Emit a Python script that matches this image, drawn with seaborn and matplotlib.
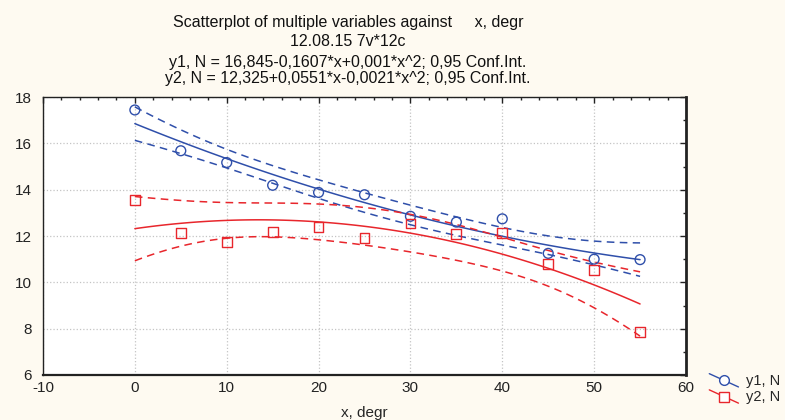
import numpy as np
import pandas as pd
import matplotlib
matplotlib.use("Agg")
import matplotlib.pyplot as plt
import seaborn as sns
from matplotlib.lines import Line2D
from matplotlib.legend_handler import HandlerBase
from matplotlib.ticker import MultipleLocator

# data
x_degr = [0, 5, 10, 15, 20, 25, 30, 35, 40, 45, 50, 55]
y1_n = [17.44, 15.68, 15.17, 14.19, 13.88, 13.78, 12.85, 12.6, 12.74, 11.25, 11.0, 10.98]
y2_n = [13.57, 12.14, 11.74, 12.19, 12.39, 11.92, 12.54, 12.08, 12.12, 10.79, 10.54, 7.86]
series_names = ["y1, N", "y2, N"]
title_lines = [
    "Scatterplot of multiple variables against     x, degr",
    "12.08.15 7v*12c",
    "y1, N = 16,845-0,1607*x+0,001*x^2; 0,95 Conf.Int.",
    "y2, N = 12,325+0,0551*x-0,0021*x^2; 0,95 Conf.Int.",
]

BLUE = "#2F4FAA"
RED = "#E8262C"
BG = "#FEFAF1"
T_975_DF9 = 2.262  # t quantile, n=12, 3 params


def quad_fit_ci(x, y, xs):
    """Quadratic least squares fit with 95% conf. band of the mean."""
    x = np.asarray(x, float)
    y = np.asarray(y, float)
    X = np.column_stack([np.ones_like(x), x, x ** 2])
    beta, *_ = np.linalg.lstsq(X, y, rcond=None)
    resid = y - X @ beta
    s2 = resid @ resid / (len(x) - 3)
    cov = s2 * np.linalg.inv(X.T @ X)
    Xs = np.column_stack([np.ones_like(xs), xs, xs ** 2])
    fit = Xs @ beta
    se = np.sqrt(np.einsum("ij,jk,ik->i", Xs, cov, Xs))
    return fit, fit - T_975_DF9 * se, fit + T_975_DF9 * se


class DiagHandler(HandlerBase):
    def create_artists(self, legend, orig_handle, xdescent, ydescent,
                       width, height, fontsize, trans):
        x0, x1 = -xdescent, -xdescent + width
        y0, y1 = -ydescent - 0.2 * height, -ydescent + 1.1 * height
        ln = Line2D([x0, x1], [y1, y0], color=orig_handle.get_color(), lw=1)
        mk = Line2D([(x0 + x1) / 2], [(y0 + y1) / 2], ls="none",
                    marker=orig_handle.get_marker(), ms=7, mfc="white",
                    mec=orig_handle.get_color(), mew=1)
        ln.set_transform(trans)
        mk.set_transform(trans)
        return [ln, mk]


sns.set_style("white")
plt.rcParams["font.family"] = ["Liberation Sans", "DejaVu Sans"]
plt.rcParams["axes.unicode_minus"] = False

fig = plt.figure(figsize=(7.85, 4.2), dpi=100, facecolor=BG)
ax = fig.add_axes([43 / 785, 45 / 420, 643 / 785, 278 / 420])
ax.set_facecolor("white")

xs = np.linspace(min(x_degr), max(x_degr), 120)
pts = pd.DataFrame({"x": x_degr, "y1": y1_n, "y2": y2_n})

for col, color, marker in [("y1", BLUE, "o"), ("y2", RED, "s")]:
    fit, lo, hi = quad_fit_ci(pts["x"], pts[col], xs)
    sns.lineplot(x=xs, y=fit, ax=ax, color=color, lw=1.1)
    for band in (lo, hi):
        sns.lineplot(x=xs, y=band, ax=ax, color=color, lw=1.1,
                     linestyle=(0, (5, 3.5)))
    sns.scatterplot(data=pts, x="x", y=col, ax=ax, marker=marker, s=50,
                    facecolor="none", edgecolor=color, linewidth=1, zorder=5)

ax.set_xlim(-10, 60)
ax.set_ylim(6, 18)
ax.xaxis.set_major_locator(MultipleLocator(10))
ax.xaxis.set_minor_locator(MultipleLocator(2))
ax.yaxis.set_major_locator(MultipleLocator(2))
ax.yaxis.set_minor_locator(MultipleLocator(1))
ax.tick_params(which="both", direction="in", top=True, right=True,
               labelsize=11, colors="#222222")
ax.tick_params(axis="x", pad=4)
ax.tick_params(axis="y", pad=8)
ax.tick_params(which="major", length=4, width=1)
ax.tick_params(which="minor", length=2.5, width=1)
ax.grid(True, which="major", color="#c4c4c4", linestyle=":", lw=0.9)
ax.set_axisbelow(True)

for side, sp in ax.spines.items():
    sp.set_visible(True)
    sp.set_color("#222222")
    sp.set_linewidth(1.0)
ax.spines["right"].set_linewidth(2.0)
ax.spines["bottom"].set_linewidth(1.6)

ax.set_xlabel("x, degr", fontsize=11, labelpad=8)
ax.set_ylabel("")

for txt, ypix in zip(title_lines, [22, 42, 63, 79]):
    fig.text(348 / 785, 1 - ypix / 420, txt, ha="center", va="center",
             fontsize=11.5, color="#111111")

handles = [Line2D([], [], color=BLUE, marker="o"),
           Line2D([], [], color=RED, marker="s")]
fig.legend(handles, series_names, loc="center left",
           bbox_to_anchor=(702 / 785, 1 - 389 / 420), frameon=False,
           handler_map={Line2D: DiagHandler()}, fontsize=10.5,
           handlelength=2.0, handletextpad=0.5, labelspacing=0.15,
           borderpad=0)

fig.savefig("out.png", dpi=100, facecolor=BG)
